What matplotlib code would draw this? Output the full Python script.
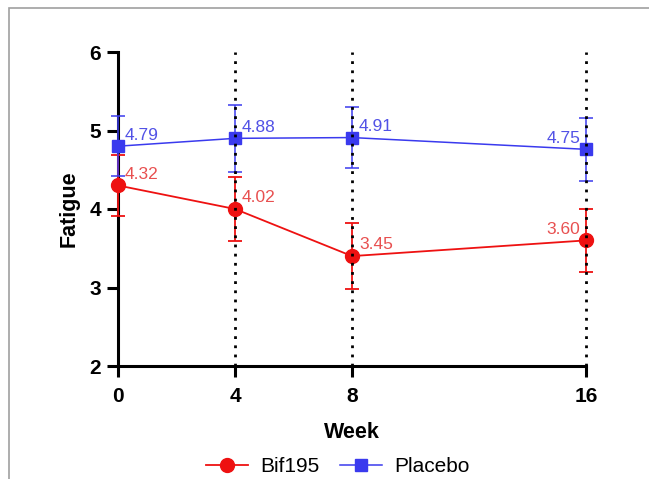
import numpy as np
import matplotlib.pyplot as plt
from matplotlib.patches import Rectangle

plt.rcParams['font.family'] = ['Liberation Sans', 'DejaVu Sans']

weeks = [0, 4, 8, 16]
grid_weeks = [4, 8, 16]

# Bif195 group
bif_mean = [4.30, 4.00, 3.40, 3.60]
bif_err = [0.39, 0.41, 0.42, 0.40]
bif_labels = ['4.32', '4.02', '3.45', '3.60']

# Placebo group
pla_mean = [4.80, 4.90, 4.91, 4.76]
pla_err = [0.38, 0.43, 0.39, 0.40]
pla_labels = ['4.79', '4.88', '4.91', '4.75']

red = '#ee1111'
blue = '#3a3aee'
red_txt = '#e85050'
blue_txt = '#5252e6'

fig = plt.figure(figsize=(6.49, 4.79), dpi=100)
ax = fig.add_axes([118/649, 1 - 366/479, 468/649, 314/479])

# dotted verticals at the visit weeks
for w in grid_weeks:
    ax.plot([w, w], [2, 6], color='k', linestyle=(0, (1, 2.3)),
            linewidth=2, zorder=5, clip_on=False)

ax.errorbar(weeks, bif_mean, yerr=bif_err, color=red, marker='o',
            markersize=10, linewidth=1.3, elinewidth=1.3, capsize=5,
            capthick=1.3, label='Bif195', zorder=3, clip_on=False)
ax.errorbar(weeks, pla_mean, yerr=pla_err, color=blue, marker='s',
            markersize=9, linewidth=1.1, elinewidth=1.1, capsize=5,
            capthick=1.1, label='Placebo', zorder=3, clip_on=False)

# value labels
for i, w in enumerate(weeks):
    last = i == len(weeks) - 1
    ox = -4 if last else 5
    ha = 'right' if last else 'left'
    ax.annotate(pla_labels[i], (w, pla_mean[i]), xytext=(ox, 8),
                textcoords='offset points', ha=ha, va='center',
                color=blue_txt, fontsize=12.5, zorder=6)
    ax.annotate(bif_labels[i], (w, bif_mean[i]), xytext=(ox, 8),
                textcoords='offset points', ha=ha, va='center',
                color=red_txt, fontsize=12.5, zorder=6)

ax.set_xlim(0, 16)
ax.set_ylim(2, 6)
ax.set_xticks(weeks)
ax.set_yticks([2, 3, 4, 5, 6])
ax.spines['top'].set_visible(False)
ax.spines['right'].set_visible(False)
for s in ['left', 'bottom']:
    ax.spines[s].set_linewidth(2.2)
ax.tick_params(width=2.2, length=8, labelsize=15, pad=4)
ax.tick_params(axis='x', pad=7)
for lab in ax.get_xticklabels() + ax.get_yticklabels():
    lab.set_fontweight('bold')

ax.set_xlabel('Week', fontsize=15.5, fontweight='bold', labelpad=12)
ax.set_ylabel('Fatigue', fontsize=15.5, fontweight='bold', labelpad=7)

handles, labels = ax.get_legend_handles_labels()
handles = [h[0] for h in handles]
fig.legend(handles, labels, loc='center', bbox_to_anchor=(338/649, 1 - 467/479),
           ncol=2, frameon=False, fontsize=15, handlelength=2.0,
           columnspacing=1.0, handletextpad=0.6)

# partial frame of the original figure
fig.patches.append(Rectangle((9/649, -0.2), 1.5, 1.2 - 8/479,
                             transform=fig.transFigure, fill=False,
                             edgecolor='#a0a0a0', linewidth=1.2))

fig.savefig('out.png', dpi=100)
